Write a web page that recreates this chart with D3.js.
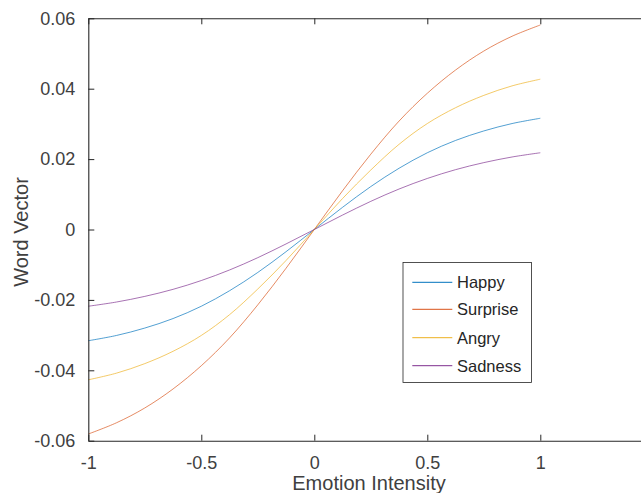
<!DOCTYPE html>
<html><head><meta charset="utf-8">
<script src="https://cdn.jsdelivr.net/npm/d3@7"></script>
<style>body{margin:0;background:#fff}svg{display:block}text{font-family:"Liberation Sans",Arial,Helvetica,sans-serif}</style>
</head><body>
<svg id="c" width="641" height="493"></svg>
<script>
const xs = [-1,-0.875,-0.75,-0.625,-0.5,-0.375,-0.25,-0.125,0,0.125,0.25,0.375,0.5,0.625,0.75,0.875,1];
const happy    = [-0.0316,-0.0301,-0.0280,-0.0253,-0.0218,-0.0174,-0.0122,-0.0063,0,0.0063,0.0122,0.0174,0.0218,0.0253,0.0280,0.0301,0.0316];
const surprise = [-0.0581,-0.0549,-0.0507,-0.0453,-0.0387,-0.0308,-0.0214,-0.0110,0,0.0110,0.0214,0.0308,0.0387,0.0453,0.0507,0.0549,0.0581];
const angry    = [-0.0427,-0.0408,-0.0381,-0.0346,-0.0301,-0.0242,-0.0169,-0.0088,0,0.0088,0.0169,0.0242,0.0301,0.0346,0.0381,0.0408,0.0427];
const sadness  = [-0.0218,-0.0206,-0.0190,-0.0170,-0.0145,-0.0115,-0.0080,-0.0041,0,0.0041,0.0080,0.0115,0.0145,0.0170,0.0190,0.0206,0.0218];
const seriesNames = ["Happy","Surprise","Angry","Sadness"];
const seriesVals = [happy, surprise, angry, sadness];
const colors = ["#0072BD","#D95319","#EDB120","#7E2F8E"];
const xTicks = [-1,-0.5,0,0.5,1];
const yTicks = [-0.06,-0.04,-0.02,0,0.02,0.04,0.06];
const xTickLabels = ["-1","-0.5","0","0.5","1"];
const yTickLabels = ["-0.06","-0.04","-0.02","0","0.02","0.04","0.06"];

const svg = d3.select("#c");
const L = 88.3, T = 18.3, B = 440.7;
const x = d3.scaleLinear().domain([-1,1.5]).range([L, L + 2.5*226]);
const y = d3.scaleLinear().domain([-0.06,0.06]).range([B, T]);
const axCol = "#262626";
const txtCol = "#404040";

// curves
const line = d3.line().x((d,i)=>x(xs[i])).y(d=>y(d)).curve(d3.curveCatmullRom.alpha(0.5));
seriesVals.forEach((vals,k)=>{
  svg.append("path").datum(vals).attr("d",line).attr("fill","none")
    .attr("stroke",colors[k]).attr("stroke-width",0.8).attr("stroke-opacity",0.85);
});

// axes
const gx = svg.append("g").attr("transform",`translate(0,${B})`)
  .call(d3.axisBottom(x).tickValues(xTicks).tickFormat((d,i)=>xTickLabels[i]).tickSizeInner(-6).tickSizeOuter(0).tickPadding(16));
const gxt = svg.append("g").attr("transform",`translate(0,${T})`)
  .call(d3.axisTop(x).tickValues(xTicks).tickFormat("").tickSizeInner(-6).tickSizeOuter(0));
const gy = svg.append("g").attr("transform",`translate(${L},0)`)
  .call(d3.axisLeft(y).tickValues(yTicks).tickFormat((d,i)=>yTickLabels[i]).tickSizeInner(-6).tickSizeOuter(0).tickPadding(13));
[gx,gxt,gy].forEach(g=>{
  g.select(".domain").attr("stroke",axCol).attr("stroke-width",1.1);
  g.selectAll(".tick line").attr("stroke",axCol).attr("stroke-width",1);
  g.selectAll(".tick text").attr("fill",txtCol).style("font-size","18px").attr("font-family",null);
});
gx.selectAll(".tick text").attr("dy","0.71em");

// axis labels
svg.append("text").attr("x",369).attr("y",490).attr("text-anchor","middle")
  .attr("fill",txtCol).style("font-size","20px").text("Emotion Intensity");
svg.append("text").attr("transform","translate(28,232) rotate(-90)").attr("text-anchor","middle")
  .attr("fill",txtCol).style("font-size","20px").text("Word Vector");

// legend
const lg = svg.append("g");
lg.append("rect").attr("x",403).attr("y",262.5).attr("width",128.5).attr("height",120)
  .attr("fill","#fff").attr("stroke","#262626").attr("stroke-width",0.8);
const ly = [282.3,309.3,337.7,365.7];
seriesNames.forEach((n,k)=>{
  lg.append("line").attr("x1",412.3).attr("x2",452.3).attr("y1",ly[k]).attr("y2",ly[k])
    .attr("stroke",colors[k]).attr("stroke-width",1);
  lg.append("text").attr("x",457).attr("y",ly[k]).attr("dy","0.36em")
    .attr("fill",axCol).style("font-size","16.5px").text(n);
});
</script>
</body></html>
